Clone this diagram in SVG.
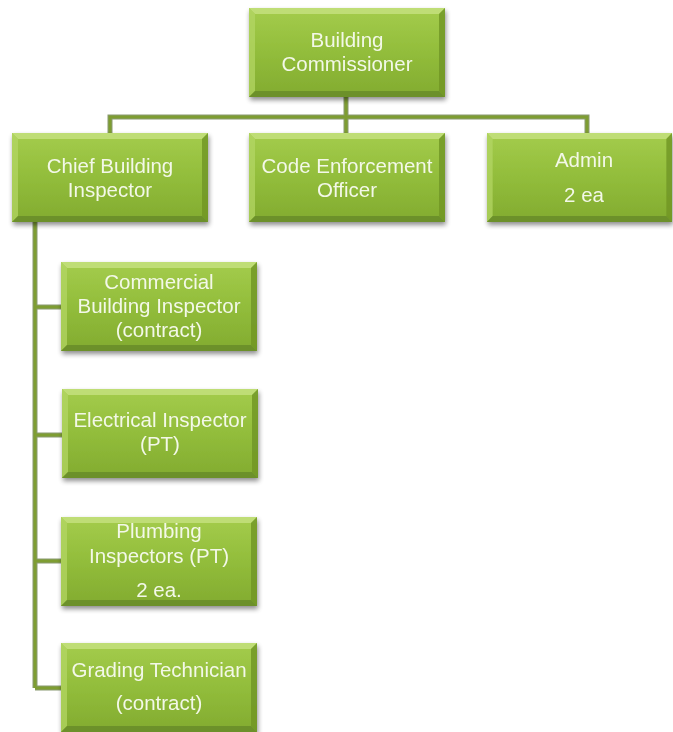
<svg xmlns="http://www.w3.org/2000/svg" width="673" height="732" viewBox="0 0 673 732">
  <defs>
    <linearGradient id="boxFill" x1="0" y1="0" x2="0" y2="1">
      <stop offset="0" stop-color="#a4cc4c"/>
      <stop offset="0.5" stop-color="#92bd3b"/>
      <stop offset="1" stop-color="#82ab30"/>
    </linearGradient>
    <filter id="shadow" x="-10%" y="-10%" width="125%" height="130%">
      <feGaussianBlur in="SourceAlpha" stdDeviation="2.5"/>
      <feOffset dx="1" dy="3" result="b"/>
      <feComponentTransfer><feFuncA type="linear" slope="0.45"/></feComponentTransfer>
      <feMerge><feMergeNode/><feMergeNode in="SourceGraphic"/></feMerge>
    </filter>
    <filter id="soft"><feGaussianBlur stdDeviation="0.5"/></filter>
    <!-- bevelled box: body, light top/left edges, dark bottom/right edges -->
    <symbol id="box" viewBox="0 0 196 89" preserveAspectRatio="none" overflow="visible">
      <rect x="0" y="0" width="196" height="89" fill="url(#boxFill)"/>
      <polygon points="0,0 196,0 190,6 6,6" fill="#c4e07e" opacity="0.85"/>
      <polygon points="0,0 6,6 6,83 0,89" fill="#b3d564" opacity="0.75"/>
      <polygon points="196,0 196,89 190,83 190,6" fill="#6f9526" opacity="0.8"/>
      <polygon points="0,89 6,83 190,83 196,89" fill="#66892a" opacity="0.8"/>
    </symbol>
  </defs>
  <style>
    .lbl { font-family: "Liberation Sans", Arial, sans-serif; font-size: 20.5px; fill: #f3f8e8; text-anchor: middle; }
    .wire { fill: none; stroke: #8a9a70; stroke-width: 5; }
    .wire-in { fill: none; stroke: #7e9d33; stroke-width: 3; }
  </style>

  <rect width="673" height="732" fill="#ffffff"/>

  <!-- connectors -->
  <g id="connectors" filter="url(#soft)">
    <path class="wire" d="M346,96 V117 M110,133 V117 H587 V133 M346,117 V133"/>
    <path class="wire" d="M35,222 V688 M35,307 H61 M35,435 H62 M35,561 H61 M35,688 H61"/>
    <path class="wire-in" d="M346,96 V117 M110,133 V117 H587 V133 M346,117 V133"/>
    <path class="wire-in" d="M35,222 V688 M35,307 H61 M35,435 H62 M35,561 H61 M35,688 H61"/>
  </g>

  <g id="building-commissioner" filter="url(#shadow)">
    <use href="#box" x="249" y="8" width="196" height="89"/>
    <text class="lbl" x="347" y="47">Building</text>
    <text class="lbl" x="347" y="71">Commissioner</text>
  </g>

  <g id="chief-building-inspector" filter="url(#shadow)">
    <use href="#box" x="12" y="133" width="196" height="89"/>
    <text class="lbl" x="110" y="173">Chief Building</text>
    <text class="lbl" x="110" y="197">Inspector</text>
  </g>

  <g id="code-enforcement-officer" filter="url(#shadow)">
    <use href="#box" x="249" y="133" width="196" height="89"/>
    <text class="lbl" x="347" y="173">Code Enforcement</text>
    <text class="lbl" x="347" y="197">Officer</text>
  </g>

  <g id="admin" filter="url(#shadow)">
    <use href="#box" x="487" y="133" width="185" height="89"/>
    <text class="lbl" x="584" y="167">Admin</text>
    <text class="lbl" x="584" y="202">2 ea</text>
  </g>

  <g id="commercial-building-inspector" filter="url(#shadow)">
    <use href="#box" x="61" y="262" width="196" height="89"/>
    <text class="lbl" x="159" y="289">Commercial</text>
    <text class="lbl" x="159" y="313">Building Inspector</text>
    <text class="lbl" x="159" y="337">(contract)</text>
  </g>

  <g id="electrical-inspector" filter="url(#shadow)">
    <use href="#box" x="62" y="389" width="196" height="89"/>
    <text class="lbl" x="160" y="427">Electrical Inspector</text>
    <text class="lbl" x="160" y="451">(PT)</text>
  </g>

  <g id="plumbing-inspectors" filter="url(#shadow)">
    <use href="#box" x="61" y="517" width="196" height="89"/>
    <text class="lbl" x="159" y="538">Plumbing</text>
    <text class="lbl" x="159" y="563">Inspectors (PT)</text>
    <text class="lbl" x="159" y="597">2 ea.</text>
  </g>

  <g id="grading-technician" filter="url(#shadow)">
    <use href="#box" x="61" y="643" width="196" height="89"/>
    <text class="lbl" x="159" y="677">Grading Technician</text>
    <text class="lbl" x="159" y="710">(contract)</text>
  </g>
</svg>
